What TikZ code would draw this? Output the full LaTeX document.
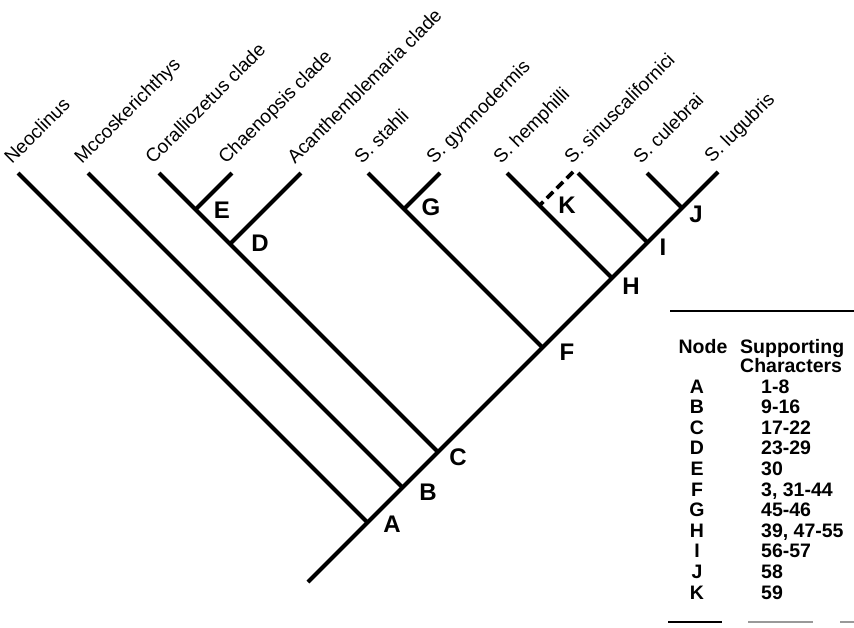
\documentclass[tikz,border=0pt]{standalone}
\usepackage{fontspec}
\setmainfont{Liberation Sans}

\begin{document}
\begin{tikzpicture}
[x=1pt, y=-1pt,
% STYLES
branch/.style={line width=4pt},
missing/.style={line width=3.6pt, dash pattern=on 9pt off 5pt},
taxon/.style={rotate=45, anchor=base west, inner sep=0pt, font=\fontsize{19}{21}\selectfont},
clade/.style={inner sep=0pt, font=\fontsize{24}{26}\selectfont\bfseries},
tabtext/.style={inner sep=0pt, font=\fontsize{19.5}{20.6}\selectfont\bfseries},
tabrule/.style={line width=2pt}]

\useasboundingbox (0,0) rectangle (854,627);

% tips of the branches
\coordinate (neo) at (18,173);
\coordinate (mcc) at (88,173);
\coordinate (cor) at (159,173);
\coordinate (cha) at (232,173);
\coordinate (aca) at (301,173);
\coordinate (sta) at (368,173);
\coordinate (gym) at (440,173);
\coordinate (hem) at (507,173);
\coordinate (sinK) at (573,172);
\coordinate (sin) at (578,173);
\coordinate (cul) at (647,173);
\coordinate (lug) at (718,172);
\coordinate (root) at (308,582);

% branching points
\coordinate (A) at (367.5,522.5);
\coordinate (B) at (402.5,487.5);
\coordinate (C) at (438,452);
\coordinate (D) at (230,244);
\coordinate (E) at (195.5,209.5);
\coordinate (F) at (542.5,347.5);
\coordinate (G) at (404,209);
\coordinate (H) at (612,278);
\coordinate (I) at (647.5,242.5);
\coordinate (J) at (682,208);
\coordinate (K) at (539.5,205.5);

% taxa
\node [taxon] (tneo) at ([shift={(-6,-8)}]neo) {Neoclinus};
\node [taxon] (tmcc) at ([shift={(-6,-8)}]mcc) {Mccoskerichthys};
\node [taxon] (tcor) at ([shift={(-6,-8)}]cor) {Coralliozetus clade};
\node [taxon] (tcha) at ([shift={(-6,-8)}]cha) {Chaenopsis clade};
\node [taxon] (taca) at ([shift={(-6,-8)}]aca) {Acanthemblemaria clade};
\node [taxon] (tsta) at ([shift={(-6,-8)}]sta) {S. stahli};
\node [taxon] (tgym) at ([shift={(-6,-8)}]gym) {S. gymnodermis};
\node [taxon] (them) at ([shift={(-6,-8)}]hem) {S. hemphilli};
\node [taxon] (tsin) at ([shift={(-6,-8)}]sin) {S. sinuscalifornici};
\node [taxon] (tcul) at ([shift={(-6,-8)}]cul) {S. culebrai};
\node [taxon] (tlug) at ([shift={(-6,-8)}]lug) {S. lugubris};

%%%%%%%%%%%%%%%%

\draw[branch] (root) -- (lug);
\draw[branch] (neo) -- (A);
\draw[branch] (mcc) -- (B);
\draw[branch] (cor) -- (C);
\draw[branch] (cha) -- (E);
\draw[branch] (aca) -- (D);
\draw[branch] (sta) -- (F);
\draw[branch] (gym) -- (G);
\draw[branch] (hem) -- (H);
\draw[missing] (sinK) -- (K);
\draw[branch] (sin) -- (I);
\draw[branch] (cul) -- (J);

% node letters
\node [clade] (lA) at ([shift={(24.5,1.5)}]A) {A};
\node [clade] (lB) at ([shift={(25.5,4.5)}]B) {B};
\node [clade] (lC) at ([shift={(20,5)}]C) {C};
\node [clade] (lD) at ([shift={(30,-1)}]D) {D};
\node [clade] (lE) at ([shift={(26.5,0.5)}]E) {E};
\node [clade] (lF) at ([shift={(24.5,4.5)}]F) {F};
\node [clade] (lG) at ([shift={(27,-2)}]G) {G};
\node [clade] (lH) at ([shift={(19,8)}]H) {H};
\node [clade] (lI) at ([shift={(15.5,4.5)}]I) {I};
\node [clade] (lJ) at ([shift={(14,6)}]J) {J};
\node [clade] (lK) at ([shift={(27.5,-0.5)}]K) {K};

%%%%%%%%%%%

% table of supporting characters
\draw[tabrule] (670,311) -- (854,311);
\node [tabtext, anchor=base] (hnode) at (703,353) {Node};
\node [tabtext, anchor=base west] (hsup) at (740,353) {Supporting};
\node [tabtext, anchor=base west] (hchr) at (740,372) {Characters};
\foreach \n/\c [count=\i from 0] in {A/1-8, B/9-16, C/17-22, D/23-29, E/30, F/{3, 31-44}, G/45-46, H/{39, 47-55}, I/56-57, J/58, K/59}{
  \node [tabtext, anchor=base] (n\n) at (697,393+20.6*\i) {\n};
  \node [tabtext, anchor=base west] (c\n) at (761,393+20.6*\i) {\c};
}
\draw[tabrule] (668,622) -- (722,622);
\draw[tabrule, black!40] (748,622) -- (813,622);
\draw[tabrule, black!40] (840,622) -- (854,622);

\end{tikzpicture}
\end{document}
